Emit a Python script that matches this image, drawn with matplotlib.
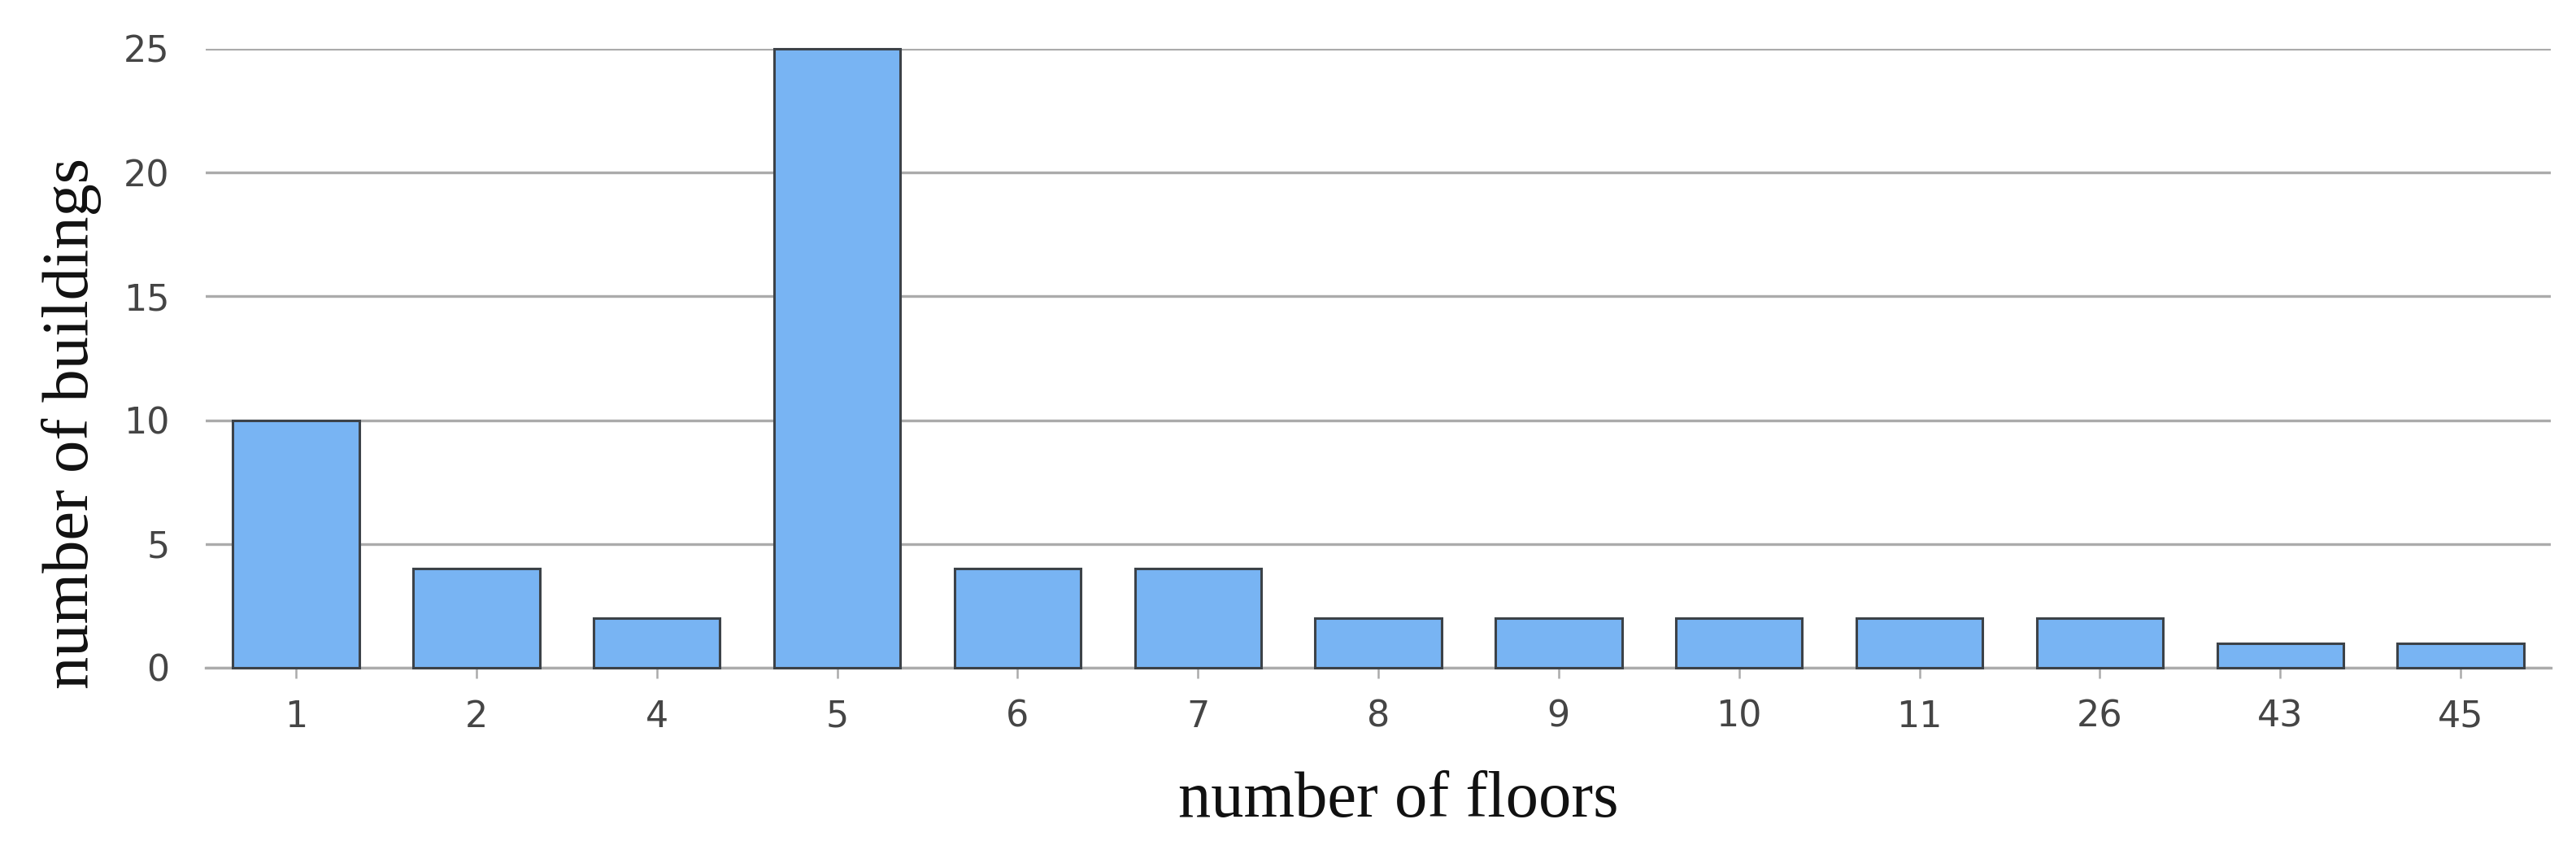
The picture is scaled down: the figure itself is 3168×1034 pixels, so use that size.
import matplotlib
matplotlib.use("Agg")
import matplotlib.pyplot as plt

floors = ["1", "2", "4", "5", "6", "7", "8", "9", "10", "11", "26", "43", "45"]
buildings = [10, 4, 2, 25, 4, 4, 2, 2, 2, 2, 2, 1, 1]
y_ticks = [0, 5, 10, 15, 20, 25]

fig = plt.figure(figsize=(31.68, 10.34), dpi=100)
ax = fig.add_axes([0.0799, 0.206, 0.9103, 0.736])

grid_col = "#ababab"
ax.set_axisbelow(True)
ax.yaxis.grid(True, color=grid_col, linewidth=2.4)

x = range(len(floors))
ax.bar(x, buildings, width=0.7, color="#78b4f3", edgecolor="#3c4248",
       linewidth=2.2, clip_on=False, zorder=3)

ax.set_xlim(-0.5, len(floors) - 0.5)
ax.set_ylim(0, 25)
ax.set_yticks(y_ticks)
ax.set_xticks(list(x))
ax.set_xticklabels(floors)

for s in ["top", "right", "left"]:
    ax.spines[s].set_visible(False)
ax.spines["bottom"].set_color(grid_col)
ax.spines["bottom"].set_linewidth(2.4)

# tick labels look like a Verdana/DejaVu style sans
for lab in ax.get_xticklabels() + ax.get_yticklabels():
    lab.set_fontfamily("DejaVu Sans")
    lab.set_fontsize(32)
    lab.set_color("#454545")
ax.tick_params(axis="x", length=9, width=1.8, color=grid_col, pad=19)
ax.tick_params(axis="y", length=0, pad=32)

label_font = {"family": ["Liberation Serif", "DejaVu Serif"], "size": 58, "color": "#111111"}
fig.text(0.543, 0.029, "number of floors", ha="center", va="baseline", **label_font)
fig.text(0.034, 0.497, "number of buildings", ha="center", va="baseline",
         rotation=90, rotation_mode="anchor", **label_font)

fig.savefig("out.png", dpi=100, facecolor="white")
